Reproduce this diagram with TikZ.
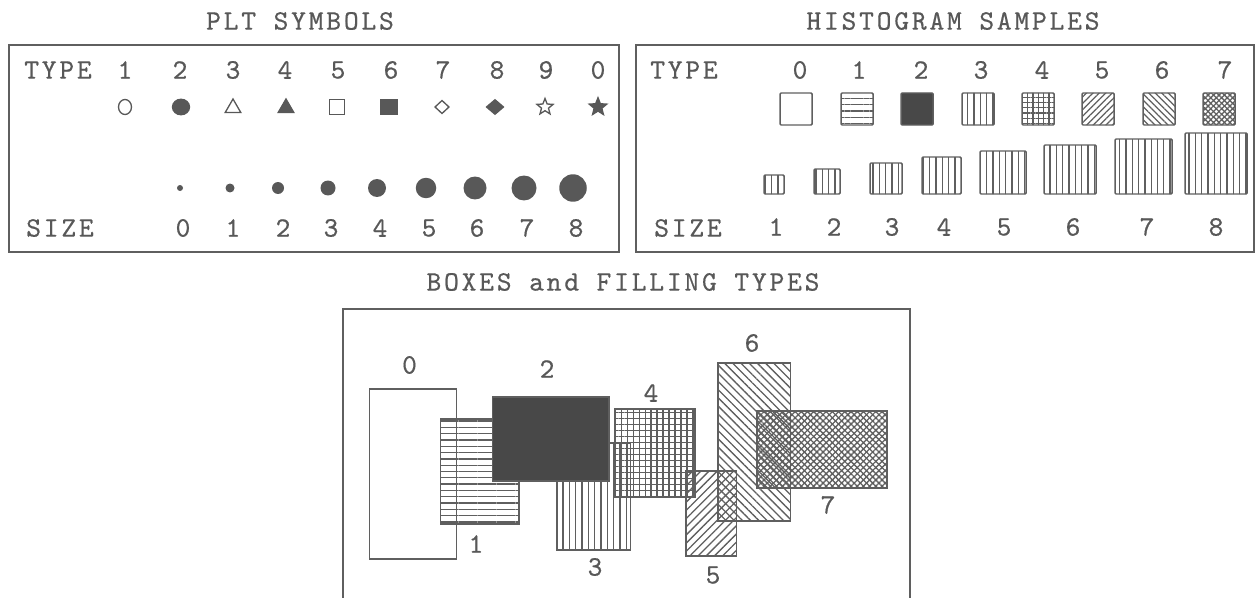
\documentclass[tikz,border=0pt]{standalone}
\usepackage{fontspec}
\usetikzlibrary{shapes.geometric,patterns.meta}
\newfontfamily\pltmono{lmmono10-regular.otf}[LetterSpace=10,FakeBold=0.5]
\newcommand{\pltfont}{\pltmono\fontsize{16}{18}\selectfont}
\definecolor{InkGray}{RGB}{88,88,88}
\definecolor{LineGray}{RGB}{95,95,95}
\definecolor{DarkFill}{RGB}{72,72,72}
\tikzset{
  lbl/.style={text=InkGray,font=\pltfont,inner sep=0pt},
  panel/.style={draw=LineGray,line width=1.1pt},
  sym/.style={draw=InkGray,line width=0.75pt,inner sep=0pt},
  fsym/.style={sym,fill=InkGray},
  dot/.style={circle,fill=InkGray,inner sep=0pt},
  hbox/.style={draw=LineGray,line width=0.85pt,rounded corners=0.6pt,pattern color=LineGray},
  fbox/.style={draw=LineGray,line width=1pt,pattern color=LineGray},
  hatch/.style={pattern={Lines[angle=#1,distance=3.6pt,line width=0.75pt]}},
  hatch2/.style args={#1/#2}{preaction={pattern={Lines[angle=#1,distance=#2,line width=0.75pt]},
      pattern color=LineGray},pattern={Lines[angle=#1+90,distance=#2,line width=0.75pt]}},
  hlines/.style={hatch=0},
  vlines/.style={hatch=90},
  rlines/.style={pattern={Lines[angle=45,distance=3.3pt,line width=0.75pt]}},
  llines/.style={pattern={Lines[angle=-45,distance=3.3pt,line width=0.75pt]}},
  gridfill/.style={hatch2=0/3.4pt},
  xhatch/.style={hatch2=45/2.5pt}
}
\begin{document}
\begin{tikzpicture}[x=0.02cm,y=-0.02cm]
\useasboundingbox (0,0) rectangle (1257,598);

% PLT symbols
\node[lbl] (plttitle) at (300,21) {PLT SYMBOLS};
\draw[panel] (9,45) rectangle (619,252);
\node[lbl] (plttype) at (58,70) {TYPE};
\node[lbl] (pltsize) at (60,228) {SIZE};
\foreach \n/\x in {1/125,2/180,3/233,4/285,5/338,6/391,7/443,8/497,9/546,0/598}
  \node[lbl] (ptype\n) at (\x,70) {\n};
\node[sym,ellipse,minimum width=0.26cm,minimum height=0.30cm] (psym1) at (125,107) {};
\node[fsym,ellipse,minimum width=0.34cm,minimum height=0.31cm] (psym2) at (181,107) {};
\node[sym,regular polygon,regular polygon sides=3,minimum size=0.36cm] (psym3) at (233,108) {};
\node[fsym,regular polygon,regular polygon sides=3,minimum size=0.36cm] (psym4) at (286,108) {};
\node[sym,rectangle,minimum width=0.31cm,minimum height=0.29cm] (psym5) at (337,107) {};
\node[fsym,rectangle,minimum width=0.33cm,minimum height=0.30cm] (psym6) at (389,107) {};
\node[sym,diamond,minimum width=0.29cm,minimum height=0.27cm] (psym7) at (442,107) {};
\node[fsym,diamond,minimum width=0.35cm,minimum height=0.30cm] (psym8) at (495,107) {};
\node[sym,star,star points=5,star point ratio=2.3,minimum size=0.34cm] (psym9) at (545,107) {};
\node[fsym,star,star points=5,star point ratio=2.3,minimum size=0.37cm] (psym0) at (598,107) {};
\foreach \s/\x/\d in {0/180/0.12,1/230/0.18,2/278/0.24,3/328/0.30,4/377/0.36,
                      5/426/0.41,6/475/0.46,7/524/0.50,8/573/0.55}
  \node[dot,minimum size=\d cm] (pdot\s) at (\x,188) {};
\foreach \s/\x in {0/183,1/233,2/283,3/331,4/380,5/429,6/477,7/527,8/576}
  \node[lbl] (psize\s) at (\x,228) {\s};

% histogram samples
\node[lbl] (histtitle) at (953,21) {HISTOGRAM SAMPLES};
\draw[panel] (636,45) rectangle (1254,252);
\node[lbl] (histtype) at (684,70) {TYPE};
\node[lbl] (histsize) at (688,228) {SIZE};
\foreach \n/\x in {0/800,1/859,2/921,3/981,4/1042,5/1102,6/1162,7/1225}
  \node[lbl] (htype\n) at (\x,70) {\n};
\draw[hbox] (780,93) rectangle +(32,32);
\draw[hbox,hlines] (841,93) rectangle +(32,32);
\draw[hbox,fill=DarkFill] (901,93) rectangle +(32,32);
\draw[hbox,vlines] (962,93) rectangle +(32,32);
\draw[hbox,hatch2=0/3pt] (1022,93) rectangle +(32,32);
\draw[hbox,pattern={Lines[angle=45,distance=2.6pt,line width=0.7pt]}] (1082,93) rectangle +(32,32);
\draw[hbox,pattern={Lines[angle=-45,distance=2.6pt,line width=0.7pt]}] (1143,93) rectangle +(32,32);
\draw[hbox,hatch2=45/2.2pt] (1203,93) rectangle +(32,32);
\foreach \l/\r/\t in {764/784/175,814/840/169,870/902/163,922/961/157,
                      980/1026/151,1044/1096/145,1115/1172/139,1185/1247/133}
  \draw[hbox,vlines] (\l,\t) rectangle (\r,194);
\foreach \s/\x in {1/776,2/834,3/892,4/944,5/1004,6/1073,7/1147,8/1216}
  \node[lbl] (hsize\s) at (\x,227) {\s};

% boxes and filling types
\node[lbl] (boxtitle) at (623,282) {BOXES and FILLING TYPES};
\draw[panel] (343,600) |- (910,309) -- (910,600);
\draw[fbox] (369.6,389.3) rectangle (456.5,559);
\draw[fbox,hlines] (440.6,419.3) rectangle (518.7,524.3);
\draw[fbox,vlines] (557.2,442.7) rectangle (630.4,550);
\draw[fbox,fill=DarkFill] (492.4,397) rectangle (609.3,480.7);
\draw[fbox,gridfill] (614.5,409.3) rectangle (695.2,497.3);
\draw[fbox,rlines] (686,471) rectangle (736.6,556);
\draw[fbox,llines] (718,363.3) rectangle (790.6,521);
\draw[fbox,xhatch] (757.3,411) rectangle (886.8,487.7);
\foreach \n/\x/\y in {0/409.5/365,1/476/544,2/547/369,3/595/567,
                      4/651/393,5/713/575,6/752/343,7/828/505}
  \node[lbl] (bnum\n) at (\x,\y) {\n};
\end{tikzpicture}
\end{document}
